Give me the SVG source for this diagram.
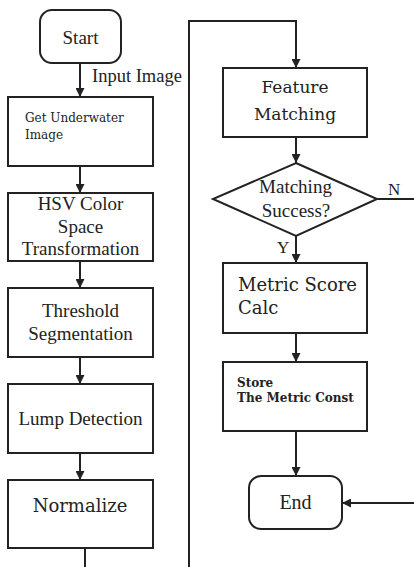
<svg xmlns="http://www.w3.org/2000/svg" width="414" height="567" viewBox="0 0 414 567">
<style>
.box{fill:#fff;stroke:#222;stroke-width:2}
.ln{fill:none;stroke:#222;stroke-width:2}
text{fill:#222}
.t{font-family:"Liberation Serif",serif}
.w{font-family:"DejaVu Serif",serif}
</style>
<defs>
<marker id="ah" viewBox="0 0 10 10" refX="10" refY="5" markerWidth="4.5" markerHeight="4.5" orient="auto">
<path d="M0,0 L10,5 L0,10 z" fill="#222"/>
</marker>
</defs>
<rect width="414" height="567" fill="#fff"/>
<g id="connectors">
<line class="ln" x1="80" y1="63" x2="80" y2="97" marker-end="url(#ah)"/>
<line class="ln" x1="80" y1="166" x2="80" y2="193" marker-end="url(#ah)"/>
<line class="ln" x1="80" y1="261" x2="80" y2="288" marker-end="url(#ah)"/>
<line class="ln" x1="80" y1="357" x2="80" y2="384" marker-end="url(#ah)"/>
<line class="ln" x1="80" y1="453" x2="80" y2="480" marker-end="url(#ah)"/>
<line class="ln" x1="85" y1="548" x2="85" y2="567"/>
<polyline class="ln" points="189,567 189,21 296,21 296,68" marker-end="url(#ah)"/>
<line class="ln" x1="296" y1="137" x2="296" y2="163" marker-end="url(#ah)"/>
<line class="ln" x1="296" y1="236" x2="296" y2="263" marker-end="url(#ah)"/>
<line class="ln" x1="296" y1="333" x2="296" y2="362" marker-end="url(#ah)"/>
<line class="ln" x1="296" y1="431" x2="296" y2="476" marker-end="url(#ah)"/>
<line class="ln" x1="377" y1="199" x2="414" y2="199"/>
<line class="ln" x1="414" y1="503" x2="342" y2="503" marker-end="url(#ah)"/>
<text class="t" x="92" y="82" font-size="18.5">Input Image</text>
<text class="t" x="388" y="195" font-size="17">N</text>
<text class="t" x="277" y="253" font-size="17">Y</text>
</g>
<g id="start">
<rect class="box" x="40" y="10" width="81" height="53" rx="12"/>
<text class="t" x="80.5" y="44" font-size="19" text-anchor="middle">Start</text>
</g>
<g id="get-underwater">
<rect class="box" x="8" y="97" width="145" height="69"/>
<text class="w" font-size="12" x="25" y="122">Get Underwater</text>
<text class="w" font-size="12" x="25" y="139">Image</text>
</g>
<g id="hsv">
<rect class="box" x="8" y="193" width="145" height="68"/>
<text class="t" font-size="19" text-anchor="middle" x="80.5" y="210">HSV Color</text>
<text class="t" font-size="19" text-anchor="middle" x="80.5" y="233">Space</text>
<text class="t" font-size="19" text-anchor="middle" x="80.5" y="255">Transformation</text>
</g>
<g id="threshold">
<rect class="box" x="8" y="288" width="145" height="69"/>
<text class="t" font-size="19" text-anchor="middle" x="80.5" y="317">Threshold</text>
<text class="t" font-size="19" text-anchor="middle" x="80.5" y="340">Segmentation</text>
</g>
<g id="lump">
<rect class="box" x="8" y="384" width="145" height="69"/>
<text class="t" x="80.5" y="425" font-size="19" text-anchor="middle">Lump Detection</text>
</g>
<g id="normalize">
<rect class="box" x="8" y="480" width="145" height="68"/>
<text class="w" x="80" y="512" font-size="18" text-anchor="middle">Normalize</text>
</g>
<g id="feature-matching">
<rect class="box" x="223" y="68" width="144" height="69"/>
<text class="w" font-size="17" text-anchor="middle" x="295" y="93">Feature</text>
<text class="w" font-size="17" text-anchor="middle" x="295" y="120">Matching</text>
</g>
<g id="decision">
<polygon class="box" points="296,163 377,199 296,236 213,199"/>
<text class="t" font-size="19" text-anchor="middle" x="295.5" y="193">Matching</text>
<text class="t" font-size="19" text-anchor="middle" x="296" y="217">Success?</text>
</g>
<g id="metric">
<rect class="box" x="223" y="263" width="144" height="70"/>
<text class="w" font-size="18" x="238" y="291">Metric Score</text>
<text class="w" font-size="18" x="238" y="314">Calc</text>
</g>
<g id="store">
<rect class="box" x="223" y="362" width="144" height="69"/>
<text class="w" font-size="12" font-weight="bold" x="237" y="387">Store</text>
<text class="w" font-size="12" font-weight="bold" x="237" y="402">The Metric Const</text>
</g>
<g id="end">
<rect class="box" x="249" y="476" width="93" height="53" rx="12"/>
<text class="t" x="295.5" y="509" font-size="20" text-anchor="middle">End</text>
</g>
</svg>
